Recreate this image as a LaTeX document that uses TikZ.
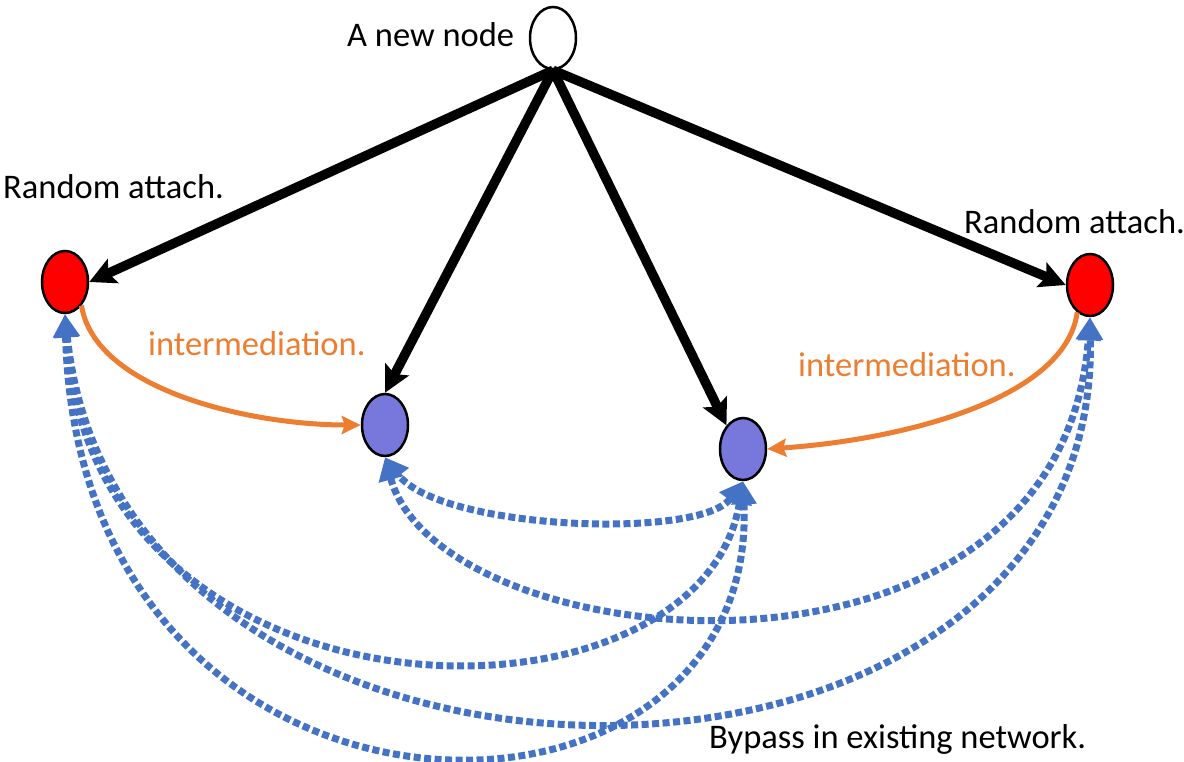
\documentclass[tikz,border=0pt]{standalone}
\usepackage{fontspec}
\setmainfont{Carlito}
\usepackage{tikz}
\usepackage{xcolor}
\usetikzlibrary{shapes.geometric,arrows.meta}
\definecolor{nodered}{RGB}{255,0,0}
\definecolor{nodeblue}{RGB}{120,120,220}
\definecolor{linkorange}{RGB}{237,125,49}
\definecolor{bypassblue}{RGB}{68,114,196}

\begin{document}
\begin{tikzpicture}[
            x = 1pt, y = -1pt,
            every node/.style = {font = \fontsize{34.5}{41}\selectfont},
            agent/.style = {ellipse, draw, line width = 2.5pt, inner sep = 0pt,
                            minimum width = 46pt, minimum height = 62pt},
            label/.style = {anchor = base west, inner sep = 0pt},
            attach/.style = {draw, line width = 9.5pt, -{Stealth[length=26pt, width=26pt, inset=5pt]}},
            inter/.style = {draw = linkorange, line width = 5pt, -{Stealth[length=19pt, width=18pt, inset=3pt]}},
            bypass/.style = {draw = bypassblue, line width = 7pt, dash pattern = on 7pt off 3.5pt,
                             {Triangle[length=23pt, width=24pt]}-{Triangle[length=23pt, width=24pt]}}
        ]
        \useasboundingbox (0,0) rectangle (1184,761);

        % nodes
        \node[agent, fill = white] (new) at (553,38) {};
        \node[agent, fill = nodered] (lr) at (65,282) {};
        \node[agent, fill = nodered] (rr) at (1090,285) {};
        \node[agent, fill = nodeblue] (n1) at (385,425) {};
        \node[agent, fill = nodeblue] (n2) at (743,449) {};

        % texts
        \node[label] (tnew) at (347,46) {A new node};
        \node[label] (tlr) at (3,198) {Random attach.};
        \node[label] (trr) at (964,233) {Random attach.};
        \node[label, text = linkorange] (tin1) at (148,355) {intermediation.};
        \node[label, text = linkorange] (tin2) at (798,376) {intermediation.};
        \node[label] (tby) at (709,748) {Bypass in existing network.};

        % bypass links
        \draw[bypass] (n2.south) .. controls (700,540) and (440,530) .. (n1.south);
        \draw[bypass] (n1.south) .. controls (440,660) and (1060,720) .. (rr.south);
        \draw[bypass] (lr.south) .. controls (90,740) and (700,745) .. (n2.south);
        \draw[bypass] (lr.south) .. controls (80,870) and (760,870) .. (n2.south);
        \draw[bypass] (lr.south) .. controls (120,855) and (1100,855) .. (rr.south);

        % intermediation
        \draw[inter] (lr.-55) .. controls (95,390) and (250,425) .. (n1.west);
        \draw[inter] (rr.-115) .. controls (1065,400) and (900,440) .. (n2.east);

        % random attachment
        \draw[attach] (new.south) -- (lr.east);
        \draw[attach] (new.south) -- (n1.north);
        \draw[attach] (new.south) -- (n2.125);
        \draw[attach] (new.south) -- (rr.west);
    \end{tikzpicture}
\end{document}
